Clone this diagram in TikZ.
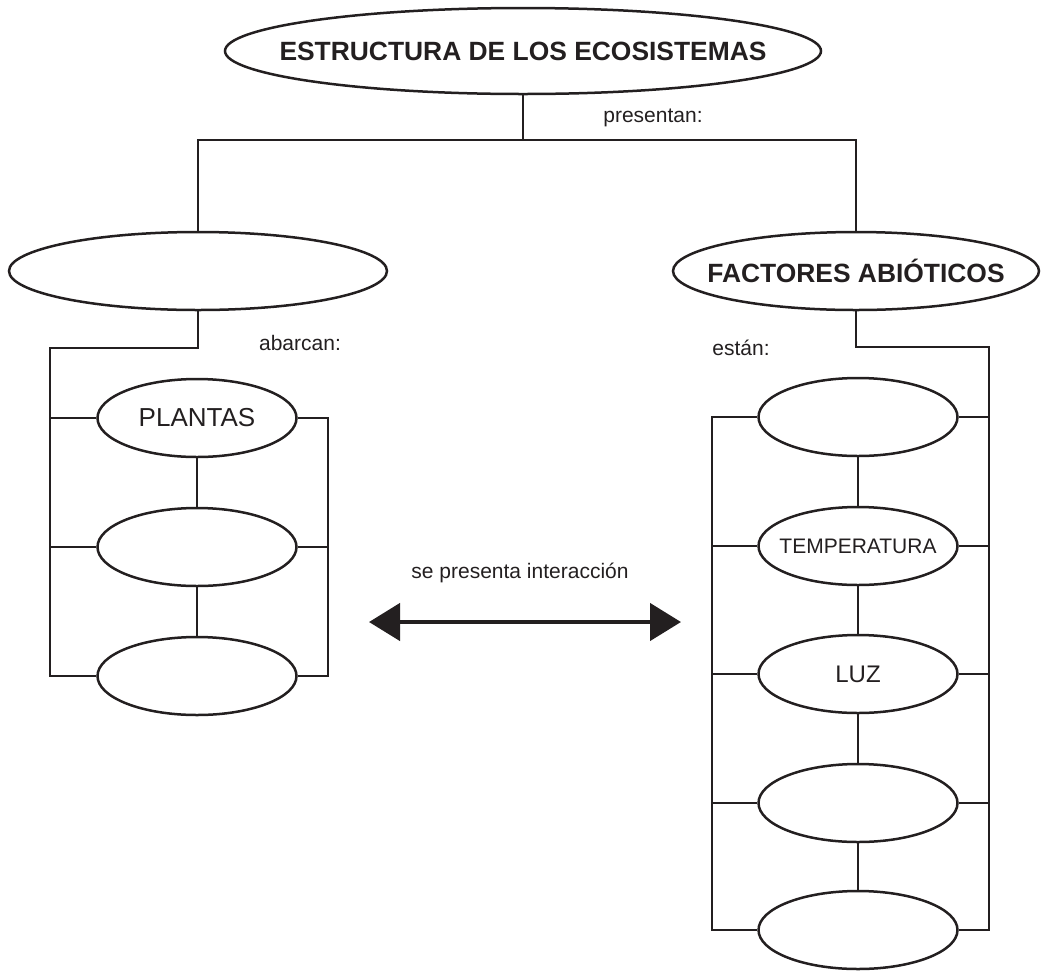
\documentclass[tikz,border=0pt]{standalone}
\usepackage{fontspec}
\setmainfont{Liberation Sans}
\usetikzlibrary{arrows.meta,shapes.geometric}
\definecolor{ink}{RGB}{35,31,32}
\newcommand{\ovaltext}[1]{\makebox[0pt]{#1}}
\begin{document}
\begin{tikzpicture}[x=1pt,y=-1pt,
  ln/.style={draw=ink,line width=2.5pt},
  oval/.style={ellipse,draw=ink,line width=2.5pt,inner sep=0pt,text=ink,
    font=\fontsize{26}{30}\selectfont},
  big/.style={oval,font=\fontsize{26.4}{30}\selectfont\bfseries},
  item/.style={oval,minimum width=199pt,minimum height=78pt},
  lbl/.style={text=ink,inner sep=0pt,font=\fontsize{21}{25}\selectfont}]
\useasboundingbox (0,0) rectangle (1041,970);

% main ovals
\node[big,minimum width=596pt,minimum height=86pt] (top) at (523,51) {\ovaltext{ESTRUCTURA DE LOS ECOSISTEMAS}};
\node[oval,minimum width=378pt,minimum height=78pt] (bio) at (198,271) {};
\node[big,minimum width=366pt,minimum height=78pt] (abio) at (856,271) {\ovaltext{FACTORES ABIÓTICOS}};

% left column
\node[item] (l1) at (197,418) {\ovaltext{PLANTAS}};
\node[item] (l2) at (197,547) {};
\node[item] (l3) at (197,676) {};

% right column
\node[item] (r1) at (858,417) {};
\node[item,font=\fontsize{21}{25}\selectfont] (r2) at (858,546) {\ovaltext{TEMPERATURA}};
\node[item,font=\fontsize{24}{28}\selectfont] (r3) at (858,674) {\ovaltext{LUZ}};
\node[item] (r4) at (858,803) {};
\node[item] (r5) at (858,930) {};

% bus corners
\coordinate (tb) at (523,140);
\coordinate (lb) at (50,348);
\coordinate (lr) at (328,0);
\coordinate (rb) at (989,347);
\coordinate (rl) at (712,0);

% labels
\node[lbl] (presentan) at (653,118) {presentan:};
\node[lbl] (abarcan) at (300,343) {abarcan:};
\node[lbl] (estan) at (741,348) {están:};
\node[lbl] (inter) at (520,573) {se presenta interacción};

% top branching
\draw[ln] (top.south) -- (tb);
\draw[ln] (bio.north) |- (tb) -| (abio.north);

% left group
\draw[ln] (bio.south) |- (lb) |- (l3.west);
\draw[ln] (l1.west) -- (l1.west -| lb);
\draw[ln] (l2.west) -- (l2.west -| lb);
\draw[ln] (l1.east) -- (l1.east -| lr) -- (l3.east -| lr) -- (l3.east);
\draw[ln] (l2.east) -- (l2.east -| lr);
\draw[ln] (l1.south) -- (l2.north);
\draw[ln] (l2.south) -- (l3.north);

% right group
\draw[ln] (abio.south) |- (rb) |- (r5.east);
\draw[ln] (r1.east) -- (r1.east -| rb);
\draw[ln] (r2.east) -- (r2.east -| rb);
\draw[ln] (r3.east) -- (r3.east -| rb);
\draw[ln] (r4.east) -- (r4.east -| rb);
\draw[ln] (r1.west) -- (r1.west -| rl) -- (r5.west -| rl) -- (r5.west);
\draw[ln] (r2.west) -- (r2.west -| rl);
\draw[ln] (r3.west) -- (r3.west -| rl);
\draw[ln] (r4.west) -- (r4.west -| rl);
\draw[ln] (r1.south) -- (r2.north);
\draw[ln] (r2.south) -- (r3.north);
\draw[ln] (r3.south) -- (r4.north);
\draw[ln] (r4.south) -- (r5.north);

% interaction arrow
\coordinate (al) at (369,622);
\coordinate (ar) at (681,622);
\draw[ln,line width=4.5pt,{Triangle[length=31pt,width=37pt]}-{Triangle[length=31pt,width=37pt]}] (al) -- (ar);
\end{tikzpicture}
\end{document}
